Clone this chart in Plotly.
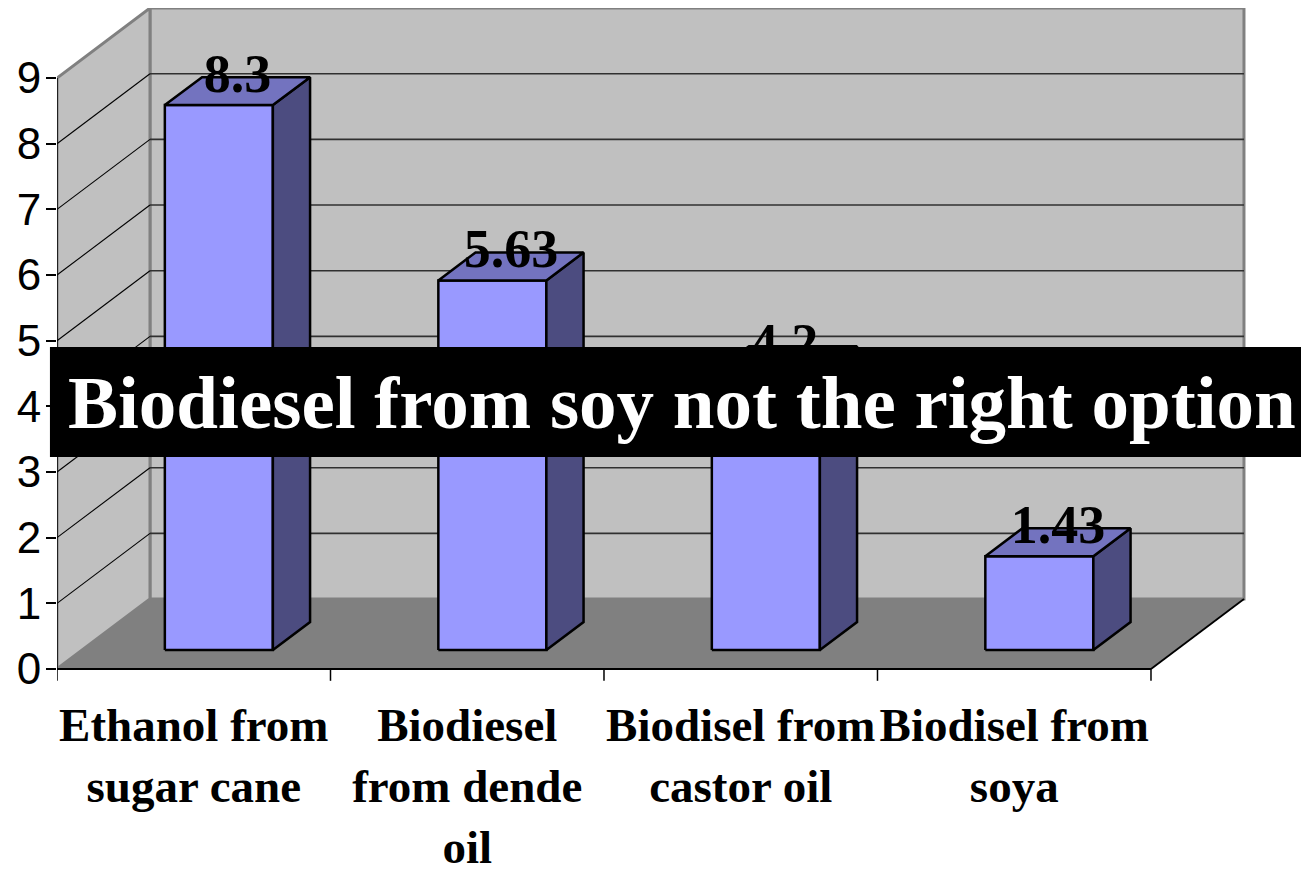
import plotly.graph_objects as go

# ---- data ----
categories = ["Ethanol from<br>sugar cane", "Biodiesel<br>from dende<br>oil",
              "Biodisel from<br>castor oil", "Biodisel from<br>soya"]
values = [8.3, 5.63, 4.2, 1.43]
value_labels = ["8.3", "5.63", "4.2", "1.43"]
y_ticks = [0, 1, 2, 3, 4, 5, 6, 7, 8, 9]
banner_text = "Biodiesel from soy not the right option"

# ---- 3D projection settings (oblique) ----
DX, DY = 0.34, 1.066      # shift of one full depth unit, in axis units
YMAX = max(y_ticks)
BAR_W = 0.395
Z0, Z1 = 0.27, 0.67
N = len(categories)

SERIF = "Liberation Serif, Times New Roman, serif"
SANS = "Liberation Sans, Arial, sans-serif"


def P(c, v, z):
    return c + z * DX, v + z * DY


fig = go.Figure()


def poly(pts, fill, line_color, lw):
    xs = [p[0] for p in pts] + [pts[0][0]]
    ys = [p[1] for p in pts] + [pts[0][1]]
    fig.add_trace(go.Scatter(x=xs, y=ys, mode="lines", fill="toself",
                             fillcolor=fill,
                             line=dict(color=line_color, width=lw),
                             hoverinfo="skip", showlegend=False))


def segs(pairs, color, lw):
    xs, ys = [], []
    for a, b in pairs:
        xs += [a[0], b[0], None]
        ys += [a[1], b[1], None]
    fig.add_trace(go.Scatter(x=xs, y=ys, mode="lines",
                             line=dict(color=color, width=lw),
                             hoverinfo="skip", showlegend=False))


# floor
poly([P(0, 0, 0), P(0, 0, 1), P(N, 0, 1), P(N, 0, 0)], "#808080", "#808080", 1)
# back wall
poly([P(0, 0, 1), P(N, 0, 1), P(N, YMAX, 1), P(0, YMAX, 1)], "#C0C0C0", "#808080", 3)
# left wall
poly([P(0, 0, 0), P(0, YMAX, 0), P(0, YMAX, 1), P(0, 0, 1)], "#C0C0C0", "#808080", 3)

# gridlines
grid_vals = [t for t in y_ticks if 0 < t < YMAX]
segs([(P(0, t, 1), P(N, t, 1)) for t in grid_vals], "#303030", 1.6)
segs([(P(0, t, 0), P(0, t, 1)) for t in grid_vals], "#000000", 1.1)

# front axis lines & category boundary ticks
segs([(P(0, 0, 0), P(0, YMAX, 0))], "#000000", 1.5)
segs([(P(0, 0, 0), P(N, 0, 0)), (P(N, 0, 0), P(N, 0, 1))], "#000000", 1.8)
segs([((c, 0), (c, -0.18)) for c in range(N + 1)], "#000000", 1.5)

# bars
for i, v in enumerate(values):
    cl = i + 0.5 - BAR_W / 2
    cr = i + 0.5 + BAR_W / 2
    poly([P(cl, 0, Z0), P(cr, 0, Z0), P(cr, v, Z0), P(cl, v, Z0)], "#9999FF", "#000000", 2.5)
    poly([P(cr, 0, Z0), P(cr, 0, Z1), P(cr, v, Z1), P(cr, v, Z0)], "#4C4C80", "#000000", 2.5)
    poly([P(cl, v, Z0), P(cr, v, Z0), P(cr, v, Z1), P(cl, v, Z1)], "#7373BF", "#000000", 2.5)

# value labels
ZM = (Z0 + Z1) / 2
lx = [i + 0.5 + ZM * DX for i in range(N)]
ly = [v + ZM * DY + 0.19 for v in values]
fig.add_trace(go.Scatter(x=lx, y=ly, mode="text", text=value_labels,
                         textposition="middle center",
                         textfont=dict(family=SERIF, size=54, color="black", weight="bold"),
                         hoverinfo="skip", showlegend=False))

# banner
fig.add_shape(type="rect", xref="paper", yref="paper",
              x0=-0.0056, x1=1.02, y0=0.3368, y1=0.4993,
              fillcolor="black", line=dict(width=0), layer="above")
fig.add_annotation(xref="paper", yref="paper", x=0.4964, y=0.418,
                   xanchor="center", yanchor="middle", showarrow=False,
                   text=banner_text,
                   font=dict(family=SERIF, size=75, color="white", weight="bold"))

fig.update_layout(
    width=1309, height=869,
    margin=dict(l=49, r=0, t=0, b=192),
    paper_bgcolor="white", plot_bgcolor="white",
    showlegend=False,
    xaxis=dict(range=[0, 4.607], tickvals=[i + 0.5 for i in range(N)],
               ticktext=categories, ticks="", showgrid=False, zeroline=False,
               showline=False, automargin=False, ticklabelstandoff=8,
               tickfont=dict(family=SERIF, size=47, color="black", weight="bold")),
    yaxis=dict(range=[-0.2437, 10.067], tickvals=y_ticks, ticks="outside",
               ticklen=10, tickwidth=1.5, tickcolor="black",
               showgrid=False, zeroline=False, showline=False, automargin=False,
               ticklabelstandoff=-4,
               tickfont=dict(family=SANS, size=44, color="black")),
)

fig.write_html("out.html")
